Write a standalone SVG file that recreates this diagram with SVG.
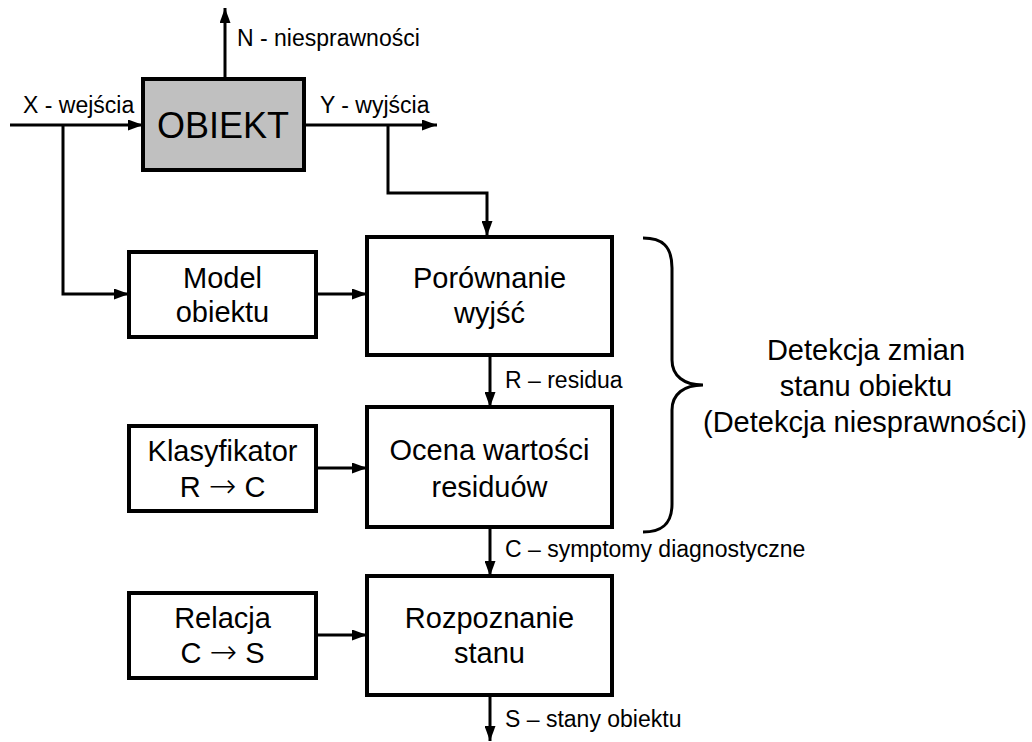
<svg xmlns="http://www.w3.org/2000/svg" width="1032" height="742" viewBox="0 0 1032 742">
  <style>
    .box { fill: #ffffff; stroke: #000000; stroke-width: 4; }
    .obj { fill: #c0c0c0; stroke: #000000; stroke-width: 4; }
    .wire { fill: none; stroke: #000000; stroke-width: 3; }
    .arrow { fill: none; stroke: #000000; stroke-width: 3; marker-end: url(#head); }
    text { font-family: "Liberation Sans", Arial, sans-serif; fill: #000000; }
    .big { font-size: 29px; text-anchor: middle; }
    .lbl { font-size: 23px; }
    .title { font-size: 36px; text-anchor: middle; }
    .sym { font-family: "DejaVu Sans", sans-serif; font-size: 33px; font-weight: 200; }
  </style>
  <defs>
    <marker id="head" markerUnits="userSpaceOnUse" markerWidth="16" markerHeight="11" refX="15" refY="5.5" orient="auto">
      <path d="M0,0 L15,5.5 L0,11 Z" fill="#000000"/>
    </marker>
  </defs>

  <rect width="1032" height="742" fill="#ffffff"/>

  <!-- connectors -->
  <g id="connectors">
    <line class="arrow" x1="225" y1="94" x2="225" y2="8"/>
    <circle cx="225" cy="94" r="3.5" fill="#000000"/>
    <line class="arrow" x1="10" y1="125" x2="143" y2="125"/>
    <line class="arrow" x1="304" y1="125" x2="437" y2="125"/>
    <polyline class="arrow" points="63,125 63,294 129,294"/>
    <polyline class="arrow" points="388,125 388,193 487,193 487,236"/>
    <line class="arrow" x1="316" y1="294" x2="367" y2="294"/>
    <line class="arrow" x1="490" y1="356" x2="490" y2="407"/>
    <line class="arrow" x1="316" y1="468" x2="367" y2="468"/>
    <line class="arrow" x1="490" y1="527" x2="490" y2="576"/>
    <line class="arrow" x1="316" y1="635" x2="367" y2="635"/>
    <line class="arrow" x1="490" y1="695" x2="490" y2="741"/>

    <text class="lbl" x="237" y="46">N - niesprawności</text>
    <text class="lbl" x="23" y="113">X - wejścia</text>
    <text class="lbl" x="320" y="113">Y - wyjścia</text>
    <text class="lbl" x="505" y="388">R – residua</text>
    <text class="lbl" x="505" y="557">C – symptomy diagnostyczne</text>
    <text class="lbl" x="505" y="727">S – stany obiektu</text>
  </g>

  <!-- nodes -->
  <g id="obiekt">
    <rect class="obj" x="143" y="79" width="161" height="91"/>
    <text class="title" x="223" y="138">OBIEKT</text>
  </g>

  <g id="model">
    <rect class="box" x="129" y="252" width="187" height="85"/>
    <text class="big" x="222.5" y="288">Model</text>
    <text class="big" x="222.5" y="322">obiektu</text>
  </g>

  <g id="porownanie">
    <rect class="box" x="367" y="237" width="245" height="118"/>
    <text class="big" x="489.5" y="288">Porównanie</text>
    <text class="big" x="489.5" y="323">wyjść</text>
  </g>

  <g id="klasyfikator">
    <rect class="box" x="129" y="426" width="187" height="85"/>
    <text class="big" x="222.5" y="461">Klasyfikator</text>
    <text class="big" x="222.5" y="497">R <tspan class="sym">→</tspan> C</text>
  </g>

  <g id="ocena">
    <rect class="box" x="367" y="407" width="245" height="120"/>
    <text class="big" x="489.5" y="460">Ocena wartości</text>
    <text class="big" x="489.5" y="497">residuów</text>
  </g>

  <g id="relacja">
    <rect class="box" x="129" y="593" width="187" height="85"/>
    <text class="big" x="222.5" y="628">Relacja</text>
    <text class="big" x="222.5" y="663">C <tspan class="sym">→</tspan> S</text>
  </g>

  <g id="rozpoznanie">
    <rect class="box" x="367" y="576" width="245" height="119"/>
    <text class="big" x="489.5" y="628">Rozpoznanie</text>
    <text class="big" x="489.5" y="663">stanu</text>
  </g>

  <!-- curly brace grouping the detection stages -->
  <g id="detekcja">
    <path class="wire" d="M643,238 C662,238 672,246 672,268 L672,360 C672,376 684,385 703,385 C684,385 672,394 672,410 L672,504 C672,524 662,532 643,532"/>
    <text class="big" x="866" y="360">Detekcja zmian</text>
    <text class="big" x="866" y="396">stanu obiektu</text>
    <text class="big" x="865" y="432">(Detekcja niesprawności)</text>
  </g>
</svg>
